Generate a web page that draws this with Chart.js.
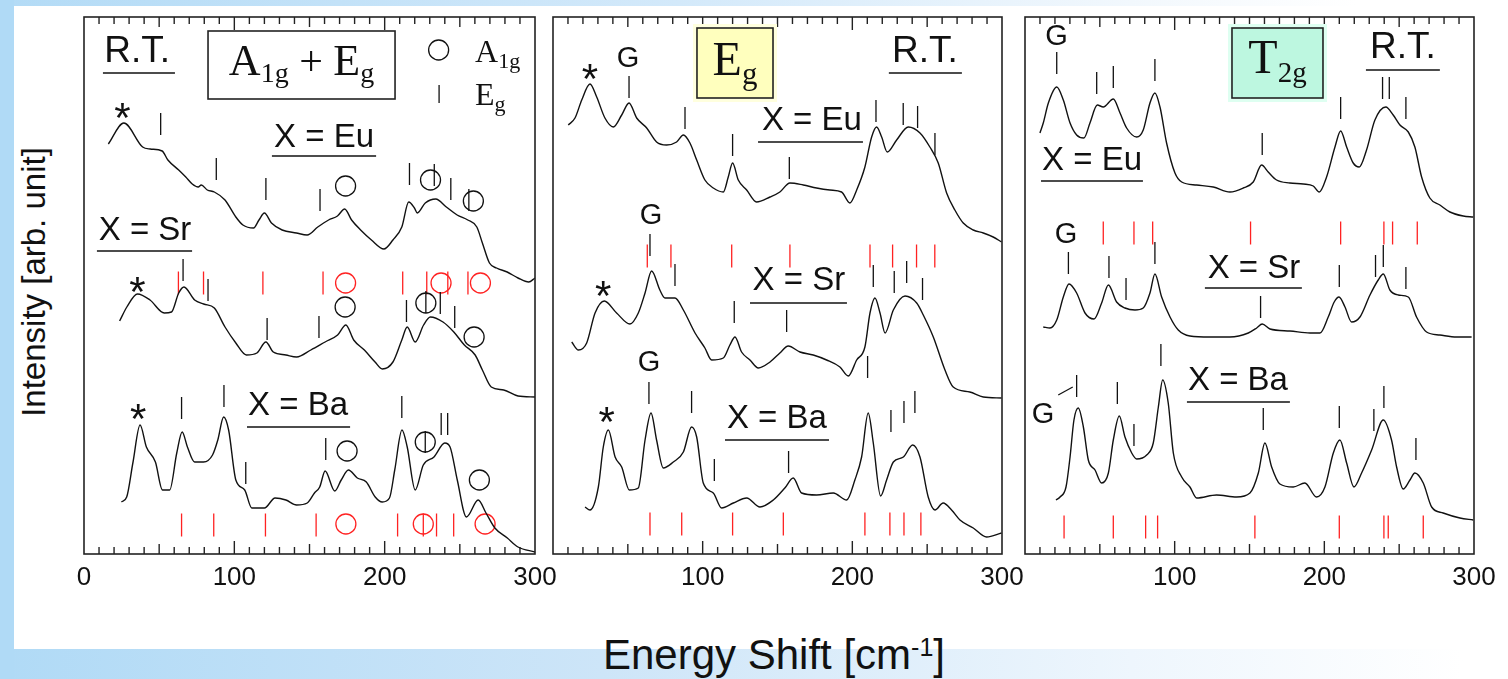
<!DOCTYPE html>
<html>
<head>
<meta charset="utf-8">
<script src="https://cdn.jsdelivr.net/npm/chart.js@4.4.1/dist/chart.umd.min.js"></script>
<style>
  body { margin:0; width:1508px; height:679px; overflow:hidden; position:relative; background:#fff;
         font-family:'Liberation Sans', Arial, sans-serif; color:#111; }
  .band { position:absolute; }
  #bandTop { left:0; top:0; width:1508px; height:6px; background:linear-gradient(to right,#b3dbf6,#d3e9fa 45%,#f2f8fd 75%,#ffffff 90%); }
  #bandLeft { left:0; top:0; width:14px; height:679px; background:#b0daf6; }
  #bandBottom { left:0; top:649px; width:1508px; height:30px; background:linear-gradient(to right,#b0daf6,#cde5f8 40%,#eef6fd 75%,#ffffff 97%); }
  canvas { position:absolute; top:0; }
  #yTitle { position:absolute; left:33px; top:282px; transform:translate(-50%,-50%) rotate(-90deg);
            font-size:33px; line-height:1; white-space:nowrap; }
  #xTitle { position:absolute; left:774px; top:634px; transform:translateX(-50%);
            font-size:42px; line-height:1; white-space:nowrap; }
  #xTitle sup { font-size:25px; line-height:1; vertical-align:top; position:relative; top:1px; }
</style>
</head>
<body>
<div class="band" id="bandTop"></div>
<div class="band" id="bandBottom"></div>
<div class="band" id="bandLeft"></div>
<canvas id="c1" width="511" height="620" style="left:54px"></canvas>
<canvas id="c2" width="509" height="620" style="left:523px"></canvas>
<canvas id="c3" width="509" height="620" style="left:995px"></canvas>
<div id="yTitle">Intensity [arb. unit]</div>
<div id="xTitle">Energy Shift [cm<sup>-1</sup>]</div>
<script>
// x: energy shift (cm-1), y: intensity (arb. unit, 0..537 per panel)
const p1Eu = [[16.2,410],[26.5,431],[39,407],[44,405],[52,403],[55.8,394],[63,384],[67.7,377],[72,370],[76,367],[78,369],[82,364],[86.7,362],[93.8,354],[101,337],[105.7,329],[112.8,326],[116.4,334],[120,341],[124.7,331],[131.8,324],[141.3,321],[148.4,319],[155.5,327],[162.7,334],[168.6,338],[173.4,345],[178,334],[184,324],[191.2,314],[199.5,305],[205.5,314],[211.4,327],[216,352],[219.8,346],[221.7,341],[227,351],[234,355],[241,347],[248.2,339],[255.3,334],[261.3,327],[265,311],[269.7,291],[274.4,286],[281.5,282],[288.7,276],[295.8,272],[300,276]];
const p1Sr = [[23.7,233],[28.5,247],[35.6,260],[43.9,254],[53.4,241],[58.2,242],[63,261],[66.5,267],[73.6,254],[79.6,250],[86.7,246],[93.8,227],[101,211],[108,199],[115,201],[121,212],[125.9,202],[134.3,199],[141.4,197],[150.9,204],[160.4,212],[168.7,219],[174.2,229],[179.4,214],[186.5,204],[193.6,192],[198.4,185],[205.5,192],[211.4,214],[215,227],[220.3,212],[225.9,229],[230.4,237],[238.8,232],[246,222],[253,209],[260.2,199],[265,184],[270.9,167],[279.2,164],[288.7,158],[300,157]];
const p1Ba = [[24.9,52],[28.4,57],[32.5,91],[37.3,129],[41.5,107],[47.5,92],[52.2,64],[57,64],[61.7,101],[65.3,122],[68.8,107],[73.6,92],[79.5,92],[85.5,99],[89,114],[92.9,137],[96.2,124],[101,74],[106.9,64],[111.6,46],[120,46],[127.1,56],[134.3,54],[141.4,49],[148.5,51],[153.3,61],[156.8,67],[160.4,83],[166.8,63],[171.1,74],[175.9,84],[181.8,76],[187.8,72],[193.7,57],[198.4,52],[203.2,56],[206.7,84],[211.5,124],[215,107],[220.3,64],[225.7,89],[232.8,97],[240,111],[243.5,107],[248.3,74],[254.4,37],[262.2,54],[267.4,41],[273.3,26],[281.6,16],[288.7,7],[300,2]];
const p1Bars = [[51,430],[88,385],[121,365],[157,354],[216.5,380],[233,379],[244,365],[256,354],
  [65.9,284],[82.5,264],[121.8,225],[156.3,227],[214.5,243],[227.4,252],[237,251],[246.6,237],
  [64.9,146],[93.1,158],[107.6,81],[160.8,105],[211.4,147],[227,112],[237.6,130],[241.9,130]];
const p1Rings = [[174,368],[230.5,374],[259,353],[173.7,247],[227.4,251],[259.5,217],[175,103],[227,112],[263,74]];
const p1RedBars = [[62.8,271],[79.5,271],[119,271],[159,271],[212,271],[228,271],[242,271],[255.4,271],
  [64.9,29],[86.3,29],[120.7,29],[154.4,29],[208.6,29],[225.7,29],[234.5,29],[245.9,29]];
const p1RedRings = [[174,271],[237.5,271],[263.7,271],[174.2,30],[225.7,30],[266.8,30]];

const p2Eu = [[10.2,429],[14.7,436],[19.2,454],[24.7,470],[29.2,457],[34.7,436],[40.3,427],[45.9,439],[50.8,451],[55.9,436],[62.6,426],[69.2,412],[75.9,409],[82.6,412],[87.1,419],[91.5,411],[96,394],[101.5,374],[107.1,366],[113.8,362],[117.1,377],[120,391],[123.8,374],[129.4,364],[136,352],[145,357],[151.6,362],[158.3,371],[167.2,369],[176.1,366],[185,364],[192.8,362],[198.4,351],[202.9,364],[208.4,387],[212.9,417],[216.2,427],[219.6,417],[223.3,402],[229.6,414],[237.4,427],[245.2,421],[251.8,407],[257.4,391],[263,361],[268.5,344],[274.1,331],[280.8,324],[287.5,321],[294.1,317],[299.7,312]];
const p2Sr = [[12.5,212],[17,204],[22.5,211],[28.1,241],[34.3,253],[42.5,241],[51.4,230],[57,241],[61.5,261],[65.9,283],[71.4,264],[74.8,256],[81.5,256],[87.1,244],[94.9,221],[101.5,206],[106,194],[113.8,196],[118.2,209],[121.6,217],[126,202],[131.6,194],[137.2,186],[145,192],[151.6,201],[157.2,208],[165,202],[173.9,199],[182.8,194],[191.7,187],[197.3,178],[202.9,194],[208.4,207],[211.8,241],[215.1,256],[218.5,241],[221.9,221],[227.4,244],[235.2,258],[243,251],[247.4,239],[254.1,217],[261.9,184],[267.4,167],[278.5,162],[287.5,157],[299.7,156]];
const p2Ba = [[21.4,47],[24.7,44],[30.3,67],[33.6,107],[37,124],[41.5,97],[45.9,87],[51,64],[57,66],[61.5,114],[65.5,141],[69.2,114],[73.7,86],[80.4,92],[87.1,102],[92.6,127],[96,117],[100.4,71],[107.1,61],[112.7,46],[120.5,51],[129.4,56],[138.3,47],[147.2,54],[154.9,66],[160.5,76],[166.1,61],[176.1,59],[187.3,61],[196.2,54],[201.7,74],[206.2,97],[210.6,141],[214,111],[218.9,58],[222.9,74],[227.4,92],[234.1,97],[240.3,109],[245.2,97],[250.7,57],[255.2,44],[260.7,51],[266.3,44],[271.9,34],[280.8,26],[289.7,17],[299.7,21]];
const p2Bars = [[50.8,467],[88.2,436],[120,409],[157.9,386],[215.8,443],[234,440],[243.6,437],[255.2,410],
  [64.8,309],[81.5,279],[121.1,242],[156.1,233],[214,278],[228,272],[236.3,282],[246.9,265],
  [64.1,161],[92.6,152],[107.8,84],[157.4,92],[210.2,187],[225.8,133],[234.5,142],[241.8,152]];
const p2RedBars = [[63,298],[78.8,298],[119.4,298],[158.3,298],[211.8,298],[226.9,298],[242.9,298],[255.1,298],
  [64.8,30],[86,30],[120,30],[153.9,30],[208.4,30],[225.1,30],[234.5,30],[245.8,30]];

const p3Eu = [[10,421],[12.2,431],[15.6,451],[21.2,467],[25.6,454],[30.1,431],[34.5,419],[39.4,416],[43.4,431],[48.3,449],[52.3,447],[59,455],[63.5,441],[67.9,426],[74.6,417],[79,424],[83.5,451],[86.8,461],[90.2,447],[94.6,411],[100.2,381],[104.7,372],[114.7,369],[125.8,367],[136.9,362],[145.8,366],[152.5,372],[158.1,389],[162.5,382],[168.1,374],[177,371],[185.9,370],[192.6,368],[196.6,362],[201.5,377],[207.1,407],[210.9,423],[214.9,407],[219.3,391],[223.3,387],[228.2,404],[233.8,434],[241.1,447],[246,439],[250.5,429],[256.1,422],[260.5,407],[265,377],[270.5,356],[277.2,349],[283.9,342],[292.8,338],[299.5,337]];
const p3Sr = [[12.2,227],[16.7,226],[21.2,234],[25.6,257],[29.4,270],[34.5,261],[40.1,241],[46.1,235],[51.2,251],[55.7,269],[61.2,252],[66.8,246],[73.5,244],[79,246],[83.5,261],[86.8,280],[91.3,257],[96.9,237],[102.4,224],[110.2,218],[123.6,217],[136.9,217],[149.2,221],[154.8,226],[158.5,230],[163.7,225],[177,223],[190.4,221],[197.1,221],[202.6,237],[206.6,252],[209.8,257],[213.8,247],[218.2,232],[223.8,237],[230.5,259],[236,274],[239.4,280],[243.8,264],[249.4,259],[256.1,257],[261.6,237],[268.3,222],[277.2,219],[288.4,217],[298.4,217]];
const p3Ba = [[20.7,54],[23.4,57],[27.4,67],[30.1,97],[32.7,134],[35.6,146],[39,127],[42.3,94],[46.8,84],[51.2,71],[55.7,81],[59,114],[63,138],[66.8,117],[71.3,101],[74.6,95],[81.3,99],[85.7,111],[89.1,147],[92,174],[95.7,151],[99.1,101],[104.7,77],[110.2,67],[114.7,56],[128,59],[141.4,57],[150.3,61],[155.9,81],[160.3,111],[164.8,87],[170.3,70],[179.2,67],[187,71],[194.8,57],[200.4,67],[206,101],[210.4,114],[214.9,91],[219.8,67],[224.9,81],[231.6,104],[239.4,134],[244.9,114],[248.3,87],[252.7,65],[257.2,74],[260.5,81],[266.1,71],[271.7,47],[279.4,41],[290.6,36],[299.5,34]];
const p3Bars = [[21.2,491],[47.9,471],[59,477],[86.8,484],[158.5,410],[210.9,446],[238.9,466],[243.4,466],[254.5,446],
  [29,291],[56.1,287],[67.5,265],[86.8,301],[157.4,247],[210,278],[234.2,288],[239.4,298],[254.5,276],
  [34.5,168],[61.7,161],[72.8,119],[90.8,199],[159.2,135],[210,137],[233.1,134],[239.8,157],[261.2,105]];
const p3RedBars = [[52.3,321],[72.8,321],[85.3,321],[150.7,321],[210.9,321],[239.8,321],[245.6,321],[262.1,321],
  [26.1,27],[59,27],[80.6,27],[88.6,27],[153.6,27],[210,27],[239.8,27],[242.7,27],[266.1,27]];

const xTicks = [0, 100, 200, 300];
const minorTicks = [10,20,30,40,50,60,70,80,90,100,110,120,130,140,150,160,170,180,190,200,210,220,230,240,250,260,270,280,290];
const Y_MAX = 537;

const SANS = "'Liberation Sans', Arial, sans-serif";
const SERIF = "'Liberation Serif', 'Times New Roman', serif";
const RED = '#f22';

// annotation layout (data coordinates)
const p1Notes = [
  {t:'R.T.', x:35.3, y:492, size:37, line:[12.6,60.5,481]},
  {t:'X = Eu', x:159.7, y:407, size:33, line:[125,194.3,398]},
  {t:'X = Sr', x:40.6, y:314, size:33, line:[8.6,71.9,303]},
  {t:'X = Ba', x:142.4, y:139, size:33, line:[108.4,177,127]},
  {t:'*', x:25.6, y:445, star:true}, {t:'*', x:35.6, y:271, star:true}, {t:'*', x:36, y:144, star:true}
];
const p2Notes = [
  {t:'R.T.', x:248.5, y:492, size:37, line:[224.4,273.2,481]},
  {t:'X = Eu', x:173, y:424, size:33, line:[137,207.1,412]},
  {t:'X = Sr', x:164.3, y:264, size:33, line:[131.6,196.4,251]},
  {t:'X = Ba', x:149.6, y:126, size:33, line:[114.9,184.4,114]},
  {t:'G', x:50.1, y:487, size:29}, {t:'G', x:65.5, y:330, size:29}, {t:'G', x:64.1, y:183, size:29},
  {t:'*', x:24.7, y:484, star:true}, {t:'*', x:33.6, y:267, star:true}, {t:'*', x:35.8, y:141, star:true}
];
const p3Notes = [
  {t:'R.T.', x:252.5, y:496, size:37, line:[227.8,277.2,484]},
  {t:'X = Eu', x:44.8, y:384, size:33, line:[10.7,78.8,373]},
  {t:'X = Sr', x:153, y:276, size:33, line:[120.2,185,266]},
  {t:'X = Ba', x:142.3, y:164, size:33, line:[108.2,177,152]},
  {t:'G', x:21, y:509, size:29}, {t:'G', x:27.4, y:311.5, size:29}, {t:'G', x:12, y:131.5, size:29},
  {seg:[22.2,159,31.9,167]}
];

const panels = [
  {id:'c1', spectra:[p1Eu,p1Sr,p1Ba], bars:p1Bars, rings:p1Rings, redBars:p1RedBars, redRings:p1RedRings, zero:true, notes:p1Notes,
   box:{x:[82.5,206.9], y:[523,455], fill:'#fff', runs:[{t:'A',size:44,base:479},{t:'1g',size:28,base:472},{t:' + ',size:42,base:479},{t:'E',size:44,base:479},{t:'g',size:28,base:472}]},
   legend:true},
  {id:'c2', spectra:[p2Eu,p2Sr,p2Ba], bars:p2Bars, rings:[], redBars:p2RedBars, redRings:[], zero:false, notes:p2Notes,
   box:{x:[96.2,147], y:[526,456], fill:'#ffffbe', glow:'#ffffde', runs:[{t:'E',size:48,base:479},{t:'g',size:31,base:470}]}},
  {id:'c3', spectra:[p3Eu,p3Sr,p3Ba], bars:p3Bars, rings:[], redBars:p3RedBars, redRings:[], zero:false, notes:p3Notes,
   box:{x:[138.3,199.1], y:[526,456], fill:'#bdf7e0', glow:'#defff1', runs:[{t:'T',size:48,base:481},{t:'2g',size:29,base:472}]}}
];

// tick length (px == y units) for the inward axis ruler
const tickLen = v => v % 100 === 0 ? 13 : (v % 50 === 0 ? 10 : 7);

function drawRuns(ctx, runs, startX, Y, centered) {
  let w = 0;
  runs.forEach(r => { ctx.font = r.size + 'px ' + SERIF; w += ctx.measureText(r.t).width; });
  let px = centered ? startX - w / 2 : startX;
  ctx.textAlign = 'left';
  ctx.textBaseline = 'alphabetic';
  runs.forEach(r => {
    ctx.font = r.size + 'px ' + SERIF;
    ctx.fillText(r.t, px, Y(r.base));
    px += ctx.measureText(r.t).width;
  });
}

function decor(p) {
  return {
    id: 'decor',
    afterDatasetsDraw(chart) {
      const ctx = chart.ctx;
      const a = chart.chartArea;
      const xs = chart.scales.x, ys = chart.scales.y;
      const X = v => xs.getPixelForValue(v), Y = v => ys.getPixelForValue(v);
      ctx.save();

      // frame
      ctx.strokeStyle = '#222';
      ctx.lineWidth = 1.6;
      ctx.strokeRect(a.left, a.top, a.right - a.left, a.bottom - a.top);

      // labelled box
      const b = p.box;
      const x1 = X(b.x[0]), x2 = X(b.x[1]), y1 = Y(b.y[0]), y2 = Y(b.y[1]);
      if (b.glow) { ctx.fillStyle = b.glow; ctx.fillRect(x1 - 4, y1 - 4, x2 - x1 + 8, y2 - y1 + 8); }
      ctx.fillStyle = b.fill;
      ctx.fillRect(x1, y1, x2 - x1, y2 - y1);
      ctx.lineWidth = 1.6;
      ctx.strokeRect(x1, y1, x2 - x1, y2 - y1);
      ctx.fillStyle = '#111';
      ctx.strokeStyle = '#111';
      drawRuns(ctx, b.runs, (x1 + x2) / 2, Y, true);

      // symbol legend
      if (p.legend) {
        ctx.lineWidth = 1.3;
        ctx.beginPath(); ctx.arc(X(235.9), Y(504), 10, 0, Math.PI * 2); ctx.stroke();
        ctx.beginPath(); ctx.moveTo(X(236.2), Y(469)); ctx.lineTo(X(236.2), Y(451)); ctx.stroke();
        drawRuns(ctx, [{t:'A',size:32,base:492},{t:'1g',size:22,base:486}], X(260.1), Y, false);
        drawRuns(ctx, [{t:'E',size:32,base:449},{t:'g',size:22,base:443}], X(260.1), Y, false);
      }

      // text notes
      ctx.textAlign = 'center';
      ctx.textBaseline = 'alphabetic';
      p.notes.forEach(n => {
        if (n.seg) {
          ctx.lineWidth = 1.2;
          ctx.beginPath(); ctx.moveTo(X(n.seg[0]), Y(n.seg[1])); ctx.lineTo(X(n.seg[2]), Y(n.seg[3])); ctx.stroke();
          return;
        }
        if (n.star) {
          ctx.font = '42px ' + SANS;
          ctx.fillText('*', X(n.x), Y(n.y) + 23);
          return;
        }
        ctx.font = n.size + 'px ' + SANS;
        ctx.fillText(n.t, X(n.x), Y(n.y));
        if (n.line) {
          ctx.lineWidth = 1.5;
          ctx.beginPath(); ctx.moveTo(X(n.line[0]), Y(n.line[2])); ctx.lineTo(X(n.line[1]), Y(n.line[2])); ctx.stroke();
        }
      });
      ctx.restore();
    }
  };
}

function markSet(data, color, style, radius) {
  return {
    data: data, showLine: false, clip: false,
    borderColor: color, backgroundColor: 'rgba(0,0,0,0)',
    pointStyle: style, pointRotation: style === 'line' ? 90 : 0,
    pointRadius: radius, pointBorderWidth: 1.3,
    pointBorderColor: color, pointBackgroundColor: 'rgba(0,0,0,0)'
  };
}

panels.forEach(p => {
  const datasets = p.spectra.map(s => ({
    data: s, borderColor: '#111', borderWidth: 1.4, pointRadius: 0,
    cubicInterpolationMode: 'monotone', fill: false
  }));
  datasets.push(markSet(p.bars, '#111', 'line', 11));
  datasets.push(markSet(p.rings, '#111', 'circle', 10));
  datasets.push(markSet(p.redBars, RED, 'line', 11.5));
  datasets.push(markSet(p.redRings, RED, 'circle', 10));
  // inward ruler ticks on bottom and top edges, placed through the scales
  const ruler = markSet(
    minorTicks.map(v => [v, tickLen(v) / 2]).concat(minorTicks.map(v => [v, Y_MAX - tickLen(v) / 2])),
    '#222', 'line', 3.5);
  ruler.pointRadius = c => tickLen(c.raw[0]) / 2;
  ruler.pointBorderWidth = 1.4;
  datasets.push(ruler);

  new Chart(document.getElementById(p.id).getContext('2d'), {
    type: 'line',
    data: { datasets: datasets },
    options: {
      responsive: false,
      animation: false,
      events: [],
      layout: { padding: { left: 30, right: 30, top: 17, bottom: 18.8 } },
      plugins: { legend: { display: false }, tooltip: { enabled: false } },
      scales: {
        x: {
          type: 'linear', min: 0, max: 300,
          afterBuildTicks: s => { s.ticks = xTicks.map(v => ({ value: v })); },
          grid: { display: false, drawTicks: false },
          border: { display: false },
          ticks: {
            padding: 8, color: '#111', maxRotation: 0, autoSkip: false,
            font: { family: SANS, size: 26 },
            callback: v => (v === 0 && !p.zero) ? '' : v
          }
        },
        y: { min: 0, max: Y_MAX, display: false }
      }
    },
    plugins: [decor(p)]
  });
});
</script>
</body>
</html>
